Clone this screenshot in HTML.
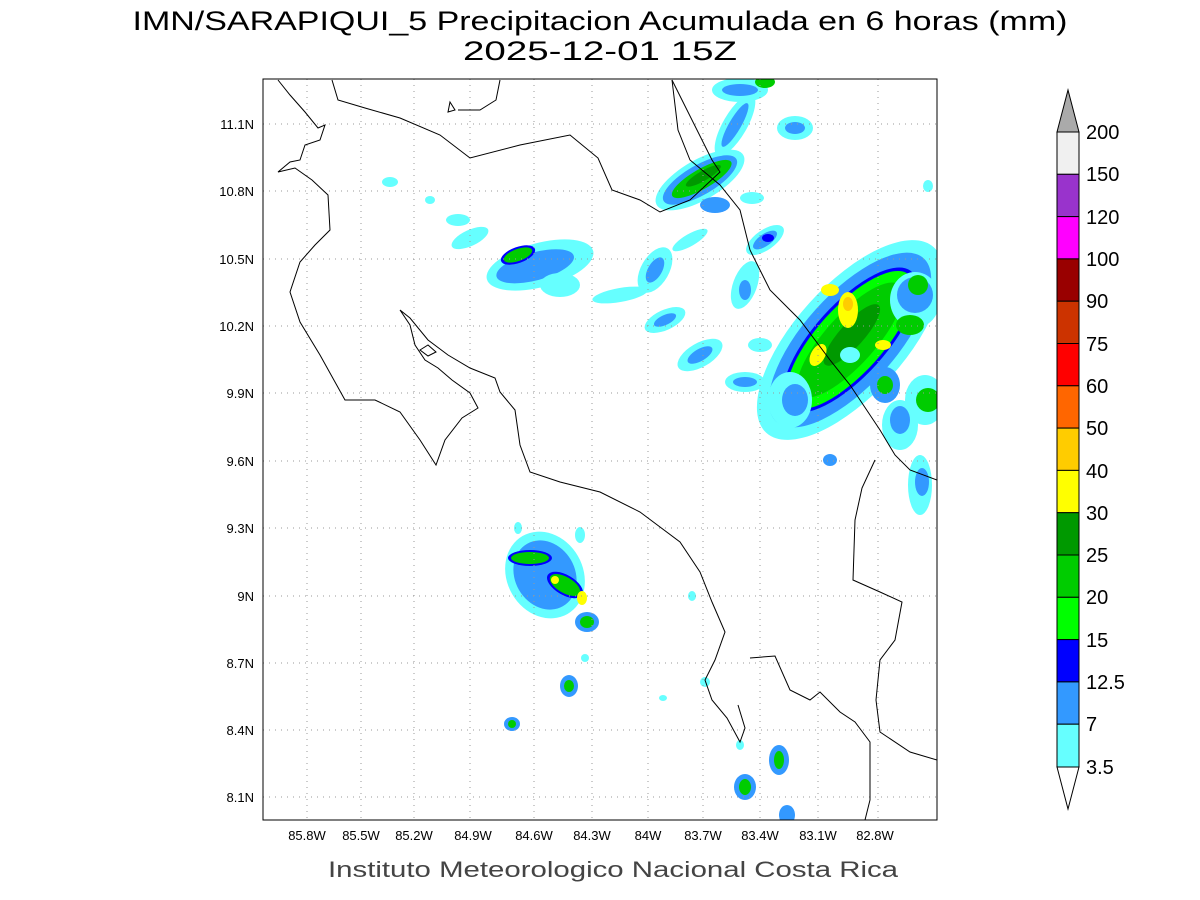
<!DOCTYPE html>
<html><head><meta charset="utf-8"><style>
body{margin:0;background:#fff;}
svg{display:block;font-family:"Liberation Sans",sans-serif;}
</style></head><body>
<svg width="1200" height="900" viewBox="0 0 1200 900" xmlns="http://www.w3.org/2000/svg">
<rect width="1200" height="900" fill="#fff"/>
<text x="600" y="30" font-size="27" text-anchor="middle" fill="#000" textLength="935" lengthAdjust="spacingAndGlyphs">IMN/SARAPIQUI_5 Precipitacion Acumulada en 6 horas (mm)</text>
<text x="600" y="60" font-size="27" text-anchor="middle" fill="#000" textLength="274" lengthAdjust="spacingAndGlyphs">2025-12-01 15Z</text>
<defs><clipPath id="c"><rect x="263" y="79" width="674" height="741"/></clipPath></defs>
<g clip-path="url(#c)">
<g>
<!-- NE big cluster -->
<g transform="rotate(-48 850 340)">
<ellipse cx="850" cy="340" rx="125" ry="55" fill="#66ffff"/>
<ellipse cx="850" cy="340" rx="110" ry="46" fill="#3399ff"/>
<ellipse cx="850" cy="340" rx="92" ry="36" fill="#0000ff"/>
<ellipse cx="850" cy="340" rx="88" ry="33" fill="#00ff00"/>
<ellipse cx="850" cy="340" rx="74" ry="25" fill="#00cc00"/>
<ellipse cx="855" cy="338" rx="40" ry="12" fill="#009900"/>
</g>
<ellipse cx="848" cy="310" rx="10" ry="18" fill="#ffff00"/>
<ellipse cx="848" cy="304" rx="5" ry="7" fill="#ffcc00"/>
<ellipse cx="830" cy="290" rx="9" ry="6" fill="#ffff00"/>
<ellipse cx="818" cy="355" rx="7" ry="12" fill="#ffff00" transform="rotate(30 818 355)"/>
<ellipse cx="883" cy="345" rx="8" ry="5" fill="#ffff00"/>
<ellipse cx="850" cy="355" rx="10" ry="8" fill="#66ffff"/>
<ellipse cx="915" cy="300" rx="25" ry="28" fill="#66ffff"/>
<ellipse cx="915" cy="295" rx="18" ry="18" fill="#3399ff"/>
<ellipse cx="918" cy="285" rx="10" ry="10" fill="#00cc00"/>
<ellipse cx="910" cy="325" rx="14" ry="10" fill="#00cc00"/>
<ellipse cx="885" cy="385" rx="15" ry="18" fill="#3399ff"/>
<ellipse cx="885" cy="385" rx="8" ry="9" fill="#00cc00"/>
<ellipse cx="925" cy="400" rx="20" ry="25" fill="#66ffff"/>
<ellipse cx="928" cy="400" rx="12" ry="12" fill="#00cc00"/>
<ellipse cx="900" cy="425" rx="18" ry="25" fill="#66ffff"/>
<ellipse cx="900" cy="420" rx="10" ry="14" fill="#3399ff"/>
<ellipse cx="790" cy="400" rx="22" ry="28" fill="#66ffff"/>
<ellipse cx="795" cy="400" rx="13" ry="16" fill="#3399ff"/>
<ellipse cx="920" cy="485" rx="12" ry="30" fill="#66ffff"/>
<ellipse cx="922" cy="482" rx="7" ry="14" fill="#3399ff"/>
<!-- north cluster -->
<g transform="rotate(-30 700 180)">
<ellipse cx="700" cy="180" rx="50" ry="20" fill="#66ffff"/>
<ellipse cx="700" cy="180" rx="42" ry="15" fill="#3399ff"/>
<ellipse cx="702" cy="180" rx="34" ry="10" fill="#00cc00"/>
<ellipse cx="705" cy="178" rx="20" ry="5" fill="#009900"/>
</g>
<ellipse cx="735" cy="125" rx="12" ry="35" fill="#66ffff" transform="rotate(30 735 125)"/>
<ellipse cx="735" cy="125" rx="6" ry="25" fill="#3399ff" transform="rotate(30 735 125)"/>
<ellipse cx="740" cy="90" rx="28" ry="12" fill="#66ffff"/>
<ellipse cx="740" cy="90" rx="18" ry="6" fill="#3399ff"/>
<ellipse cx="795" cy="128" rx="18" ry="12" fill="#66ffff"/>
<ellipse cx="795" cy="128" rx="10" ry="6" fill="#3399ff"/>
<ellipse cx="765" cy="82" rx="10" ry="6" fill="#00cc00"/>
<ellipse cx="715" cy="205" rx="15" ry="8" fill="#3399ff"/>
<ellipse cx="752" cy="198" rx="12" ry="6" fill="#66ffff"/>
<ellipse cx="765" cy="240" rx="22" ry="10" fill="#66ffff" transform="rotate(-35 765 240)"/>
<ellipse cx="765" cy="240" rx="14" ry="6" fill="#3399ff" transform="rotate(-35 765 240)"/>
<ellipse cx="768" cy="238" rx="6" ry="4" fill="#0000ff"/>
<ellipse cx="690" cy="240" rx="20" ry="6" fill="#66ffff" transform="rotate(-30 690 240)"/>
<ellipse cx="655" cy="270" rx="14" ry="25" fill="#66ffff" transform="rotate(30 655 270)"/>
<ellipse cx="655" cy="270" rx="7" ry="14" fill="#3399ff" transform="rotate(30 655 270)"/>
<ellipse cx="620" cy="295" rx="28" ry="7" fill="#66ffff" transform="rotate(-10 620 295)"/>
<ellipse cx="665" cy="320" rx="22" ry="10" fill="#66ffff" transform="rotate(-25 665 320)"/>
<ellipse cx="665" cy="320" rx="12" ry="5" fill="#3399ff" transform="rotate(-25 665 320)"/>
<ellipse cx="700" cy="355" rx="25" ry="12" fill="#66ffff" transform="rotate(-30 700 355)"/>
<ellipse cx="700" cy="355" rx="14" ry="6" fill="#3399ff" transform="rotate(-30 700 355)"/>
<ellipse cx="745" cy="285" rx="12" ry="25" fill="#66ffff" transform="rotate(20 745 285)"/>
<ellipse cx="745" cy="290" rx="6" ry="10" fill="#3399ff"/>
<ellipse cx="745" cy="382" rx="20" ry="10" fill="#66ffff"/>
<ellipse cx="745" cy="382" rx="12" ry="5" fill="#3399ff"/>
<ellipse cx="760" cy="345" rx="12" ry="7" fill="#66ffff"/>
<ellipse cx="470" cy="238" rx="20" ry="8" fill="#66ffff" transform="rotate(-25 470 238)"/>
<ellipse cx="458" cy="220" rx="12" ry="6" fill="#66ffff"/>
<ellipse cx="390" cy="182" rx="8" ry="5" fill="#66ffff"/>
<ellipse cx="430" cy="200" rx="5" ry="4" fill="#66ffff"/>
<ellipse cx="928" cy="186" rx="5" ry="6" fill="#66ffff"/>
<g transform="rotate(-15 540 265)">
<ellipse cx="540" cy="265" rx="55" ry="22" fill="#66ffff"/>
<ellipse cx="535" cy="265" rx="40" ry="14" fill="#3399ff"/>
</g>
<ellipse cx="518" cy="255" rx="18" ry="8" fill="#0000ff" transform="rotate(-20 518 255)"/>
<ellipse cx="518" cy="255" rx="15" ry="6" fill="#00cc00" transform="rotate(-20 518 255)"/>
<ellipse cx="560" cy="285" rx="20" ry="12" fill="#66ffff"/>
<ellipse cx="830" cy="460" rx="7" ry="6" fill="#3399ff"/>
<!-- south cluster -->
<ellipse cx="545" cy="575" rx="38" ry="45" fill="#66ffff" transform="rotate(-30 545 575)"/>
<ellipse cx="545" cy="575" rx="30" ry="36" fill="#3399ff" transform="rotate(-30 545 575)"/>
<ellipse cx="530" cy="558" rx="22" ry="8" fill="#0000ff"/>
<ellipse cx="530" cy="558" rx="19" ry="6" fill="#00cc00"/>
<ellipse cx="565" cy="585" rx="20" ry="10" fill="#0000ff" transform="rotate(30 565 585)"/>
<ellipse cx="565" cy="585" rx="17" ry="8" fill="#00cc00" transform="rotate(30 565 585)"/>
<ellipse cx="555" cy="580" rx="4" ry="4" fill="#ffff00"/>
<ellipse cx="582" cy="598" rx="5" ry="7" fill="#ffff00"/>
<ellipse cx="587" cy="622" rx="12" ry="10" fill="#3399ff"/>
<ellipse cx="587" cy="622" rx="7" ry="6" fill="#00cc00"/>
<ellipse cx="580" cy="535" rx="5" ry="8" fill="#66ffff"/>
<ellipse cx="518" cy="528" rx="4" ry="6" fill="#66ffff"/>
<ellipse cx="569" cy="686" rx="9" ry="11" fill="#3399ff"/>
<ellipse cx="569" cy="686" rx="5" ry="6" fill="#00cc00"/>
<ellipse cx="512" cy="724" rx="8" ry="7" fill="#3399ff"/>
<ellipse cx="512" cy="724" rx="4" ry="4" fill="#00cc00"/>
<ellipse cx="585" cy="658" rx="4" ry="4" fill="#66ffff"/>
<ellipse cx="745" cy="787" rx="11" ry="13" fill="#3399ff"/>
<ellipse cx="745" cy="787" rx="6" ry="8" fill="#00cc00"/>
<ellipse cx="779" cy="760" rx="10" ry="15" fill="#3399ff"/>
<ellipse cx="779" cy="760" rx="5" ry="9" fill="#00cc00"/>
<ellipse cx="787" cy="815" rx="8" ry="10" fill="#3399ff"/>
<ellipse cx="740" cy="745" rx="4" ry="5" fill="#66ffff"/>
<ellipse cx="705" cy="682" rx="5" ry="5" fill="#66ffff"/>
<ellipse cx="692" cy="596" rx="4" ry="5" fill="#66ffff"/>
<ellipse cx="663" cy="698" rx="4" ry="3" fill="#66ffff"/>
</g>
</g>
<g stroke="#999" stroke-width="1" stroke-dasharray="1,5">
<line x1="307" y1="79" x2="307" y2="820"/><line x1="361" y1="79" x2="361" y2="820"/><line x1="414" y1="79" x2="414" y2="820"/><line x1="470" y1="79" x2="470" y2="820"/><line x1="534" y1="79" x2="534" y2="820"/><line x1="592" y1="79" x2="592" y2="820"/><line x1="648" y1="79" x2="648" y2="820"/><line x1="703" y1="79" x2="703" y2="820"/><line x1="760" y1="79" x2="760" y2="820"/><line x1="818" y1="79" x2="818" y2="820"/><line x1="878" y1="79" x2="878" y2="820"/>
<line x1="263" y1="124" x2="937" y2="124"/><line x1="263" y1="191" x2="937" y2="191"/><line x1="263" y1="259" x2="937" y2="259"/><line x1="263" y1="326" x2="937" y2="326"/><line x1="263" y1="393" x2="937" y2="393"/><line x1="263" y1="461" x2="937" y2="461"/><line x1="263" y1="528" x2="937" y2="528"/><line x1="263" y1="596" x2="937" y2="596"/><line x1="263" y1="663" x2="937" y2="663"/><line x1="263" y1="730" x2="937" y2="730"/><line x1="263" y1="797" x2="937" y2="797"/>
</g>
<g clip-path="url(#c)" fill="none" stroke="#000" stroke-width="1">
<polyline points="278,80 290,95 305,112 318,128 325,125 320,140 305,145 300,160 290,162 278,172 295,168 312,180 328,195 330,230 315,245 300,262 290,292 300,322 320,355 345,400 375,400 400,412 420,440 436,465 445,440 462,418 478,408 470,393 452,380 438,368 425,360 415,345 410,325 400,310 410,318 428,340 448,355 470,368 495,378 500,392 515,410 520,445 530,472 560,482 600,492 640,512 680,542 700,572 712,602 725,632 715,660 705,680 712,700 727,718 740,742 745,728 738,705"/>
<polyline points="332,80 338,100 365,108 400,118 440,135 470,158 520,145 570,135 598,158 612,190 640,200 660,212 690,200 720,172 712,160 672,80"/>
<polyline points="672,80 678,130 690,160 720,185 740,210 750,250 770,290 800,320 830,360 850,385 880,430 895,455 910,470 937,480"/>
<polyline points="750,658 775,656 790,690 810,700 820,692 840,712 855,722 870,742 870,800 865,820"/>
<polyline points="875,460 862,488 855,520 853,580 880,592 902,602 895,640 880,660 876,700 880,732 910,752 937,760"/>
<polyline points="500,80 496,100 480,110 458,110"/>
<polygon points="420,350 428,345 436,352 428,356"/>
<polygon points="450,102 455,110 448,112"/>
</g>
<rect x="263" y="79" width="674" height="741" fill="none" stroke="#000" stroke-width="1"/>
<g font-size="13" fill="#000" text-anchor="middle">
<text x="307" y="840">85.8W</text><text x="361" y="840">85.5W</text><text x="414" y="840">85.2W</text><text x="473" y="840">84.9W</text><text x="534" y="840">84.6W</text><text x="592" y="840">84.3W</text><text x="648" y="840">84W</text><text x="703" y="840">83.7W</text><text x="760" y="840">83.4W</text><text x="818" y="840">83.1W</text><text x="875" y="840">82.8W</text>
</g>
<g font-size="13" fill="#000" text-anchor="end">
<text x="254" y="129">11.1N</text><text x="254" y="196">10.8N</text><text x="254" y="264">10.5N</text><text x="254" y="331">10.2N</text><text x="254" y="398">9.9N</text><text x="254" y="466">9.6N</text><text x="254" y="533">9.3N</text><text x="254" y="601">9N</text><text x="254" y="668">8.7N</text><text x="254" y="735">8.4N</text><text x="254" y="802">8.1N</text>
</g>
<text x="613" y="877" font-size="22" text-anchor="middle" fill="#444" textLength="570" lengthAdjust="spacingAndGlyphs">Instituto Meteorologico Nacional Costa Rica</text>
<g stroke="#000" stroke-width="1">
<polygon points="1057,132 1079,132 1068,90" fill="#aaaaaa"/>
<rect x="1057" y="132" width="22" height="42.3" fill="#f0f0f0"/>
<rect x="1057" y="174.3" width="22" height="42.3" fill="#9933cc"/>
<rect x="1057" y="216.6" width="22" height="42.3" fill="#ff00ff"/>
<rect x="1057" y="258.9" width="22" height="42.3" fill="#990000"/>
<rect x="1057" y="301.2" width="22" height="42.3" fill="#cc3300"/>
<rect x="1057" y="343.5" width="22" height="42.3" fill="#ff0000"/>
<rect x="1057" y="385.8" width="22" height="42.3" fill="#ff6600"/>
<rect x="1057" y="428.1" width="22" height="42.3" fill="#ffcc00"/>
<rect x="1057" y="470.4" width="22" height="42.3" fill="#ffff00"/>
<rect x="1057" y="512.7" width="22" height="42.3" fill="#009900"/>
<rect x="1057" y="555" width="22" height="42.3" fill="#00cc00"/>
<rect x="1057" y="597.3" width="22" height="42.3" fill="#00ff00"/>
<rect x="1057" y="639.6" width="22" height="42.3" fill="#0000ff"/>
<rect x="1057" y="681.9" width="22" height="42.3" fill="#3399ff"/>
<rect x="1057" y="724.2" width="22" height="42.8" fill="#66ffff"/>
<polygon points="1057,767 1079,767 1068,809" fill="#fff"/>
</g>
<g font-size="20" fill="#000">
<text x="1086" y="139">200</text><text x="1086" y="181">150</text><text x="1086" y="224">120</text><text x="1086" y="266">100</text><text x="1086" y="308">90</text><text x="1086" y="351">75</text><text x="1086" y="393">60</text><text x="1086" y="435">50</text><text x="1086" y="478">40</text><text x="1086" y="520">30</text><text x="1086" y="562">25</text><text x="1086" y="604">20</text><text x="1086" y="647">15</text><text x="1086" y="689">12.5</text><text x="1086" y="731">7</text><text x="1086" y="774">3.5</text>
</g>
</svg>
</body></html>
